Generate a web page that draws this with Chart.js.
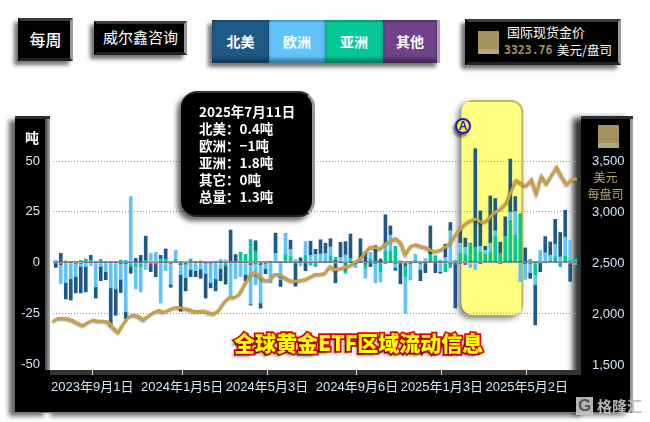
<!DOCTYPE html>
<html>
<head>
<meta charset="utf-8">
<script src="https://cdn.jsdelivr.net/npm/chart.js@4/dist/chart.umd.min.js"></script>
<style>
html, body { margin: 0; padding: 0; background: #fff; }
body { width: 650px; height: 422px; position: relative; overflow: hidden; font-family: "Noto Sans CJK SC", sans-serif; }
div, span { position: absolute; box-sizing: border-box; }
canvas { position: absolute; left: 0; top: 0; z-index: 5; }
.btn { background: #000; color: #fff; border-style: solid; border-width: 3px; border-color: #3a3a3a #999 #222 #000; box-shadow: -4px 4px 4px rgba(0,0,0,.55); text-align: center; white-space: nowrap; }
.seg { top: 20px; height: 43px; color: #fff; font-weight: 700; font-size: 14px; line-height: 43px; text-align: center; box-shadow: inset 0 -5px 4px -1px rgba(0,0,0,.4), inset 0 2px 1px rgba(0,0,0,.2); }
.swatch { background: linear-gradient(#a5915f 0 78%, #b6a67b 78%); }
.frame { background: #000; z-index: 2; box-shadow: -6px 4px 5px rgba(0,0,0,.6); }
</style>
</head>
<body>
<div class="btn" style="left:18px;top:18px;width:55px;height:43px;font-size:16px;font-weight:500;line-height:37px">每周</div>
<div class="btn" style="left:94px;top:21px;width:93px;height:34px;font-size:15px;line-height:26px">威尔鑫咨询</div>

<div style="left:212px;top:20px;width:228px;height:43px;box-shadow:-4px 4px 4px rgba(0,0,0,.55)"></div>
<div class="seg" style="left:212px;width:57px;background:#1f5a85">北美</div>
<div class="seg" style="left:269px;width:56px;background:#62c3fb">欧洲</div>
<div class="seg" style="left:325px;width:58px;background:#06c897">亚洲</div>
<div class="seg" style="left:383px;width:57px;background:#6f4289;border-right:3px solid #b49cc4">其他</div>

<div class="btn" style="left:465px;top:19px;width:156px;height:46px"></div>
<div class="swatch" style="left:478px;top:31px;width:21px;height:23px"></div>
<div style="left:507px;top:23px;color:#fff;font-size:13px;line-height:18px;white-space:nowrap">国际现货金价</div>
<div style="left:504px;top:41px;color:#a39162;font-size:11.5px;font-weight:700;line-height:18px;font-family:'DejaVu Sans Mono',monospace;white-space:nowrap">3323.76</div>
<div style="left:557px;top:41px;color:#fff;font-size:12.5px;line-height:18px;white-space:nowrap">美元/盘司</div>

<div class="frame" style="left:50px;top:370px;width:531px;height:42px;border-top:5px solid #333;box-shadow:0 4px 5px rgba(0,0,0,.6)"></div>
<div class="frame" style="left:15px;top:116px;width:35px;height:296px;background:linear-gradient(to right,#000 0 30px,#444 30px,#a8a8a8 35px);border-top:3px solid #2c2c2c"></div>
<div class="frame" style="left:581px;top:116px;width:52px;height:296px;background:linear-gradient(to right,#000 0 49px,#888 49px,#aaa 52px);border-top:3px solid #2c2c2c;box-shadow:-8px 2px 6px rgba(0,0,0,.8)"></div>
<div style="left:50px;top:370px;width:531px;height:5px;background:#333;z-index:3"></div>
<div style="left:45px;top:370px;width:5px;height:42px;background:#000;z-index:3"></div>
<div style="left:15px;top:412px;width:618px;height:1px;background:#777;z-index:3"></div>

<div style="left:25px;top:128px;z-index:6;color:#fff;font-size:14px;font-weight:700;line-height:18px">吨</div>
<div class="swatch" style="left:598px;top:125px;width:21px;height:23px;z-index:6"></div>
<div style="left:581px;top:169px;width:49px;z-index:6;color:#b8a56f;font-size:12px;line-height:16.5px;text-align:center">美元<br>每盘司</div>

<canvas id="goldFlowChart" width="650" height="422"></canvas>

<div style="left:462px;top:118px;width:16px;height:16px;margin-left:-7px;border-radius:50%;background:#ffef1a;border:2px solid #1a1ae0;box-shadow:-2px 3px 3px rgba(0,0,0,.55);z-index:6;color:#1a1ae0;font:700 12px/12px 'Liberation Sans',sans-serif;text-align:center">A</div>

<div style="left:181px;top:91px;width:134px;height:126px;border-radius:16px;background:#000;border-style:solid;border-width:2px 3px 2px 0;border-color:#333 #999 #222 #000;box-shadow:-4px 4px 5px rgba(0,0,0,.6);z-index:6"></div>
<div style="left:199px;top:103px;z-index:7;color:#fff;font-size:13.5px;font-weight:700;line-height:17.1px;white-space:pre">2025年7月11日
北美：0.4吨
欧洲：−1吨
亚洲：1.8吨
其它：0吨
总量：1.3吨</div>

<div style="left:234px;top:326px;z-index:6;font-size:21px;font-weight:900;line-height:32px;color:#ffff00;-webkit-text-stroke:3.5px #f00000;paint-order:stroke fill;text-shadow:-3px 3px 3px rgba(0,0,0,.45);white-space:nowrap">全球黄金ETF区域流动信息</div>

<div style="left:576px;top:397px;width:17px;height:18px;z-index:6;background:rgba(200,200,200,.9);color:#555;font:700 17px/18px 'Liberation Sans',sans-serif;text-align:center">G</div>
<div style="left:597px;top:395px;z-index:6;color:rgba(190,190,190,.95);font-size:15px;font-weight:700;line-height:22px;white-space:nowrap">格隆汇</div>

<script>
// weekly net flow in tonnes, 2023-07-14 .. 2025-07-11
const northAmerica = [-2.4,4.5,-8,-10.5,-8,-13,-12.5,2.2,-5.5,-7,-4,-19,-13,-6.5,-3.3,-3.3,2,3.5,12,-2.5,-5,1.5,5,-1.5,0,-18,-6.5,-3.5,-3,-4.5,-12,-2.5,-6,-6,-9,15.5,3.6,0,-3,-0.5,5,-2.5,-2.5,0,10,-3.3,0,4.5,-11.7,2,-4,7,2.5,7,5,4,-10,7.4,6.5,12,0,10,5,-2,8,1.7,14,4.5,-1.3,-10,0,0,0,-5.5,-5,14,-5,-0.8,6.5,4,-21.7,7,4.5,0,48.6,17.4,2,23.3,15.9,5.4,9.7,26,7.4,0,6.9,-2.8,-19.7,-4,8,6.5,12.3,12,13.2,-8.3,0.4];
const europe = [1.2,-9.5,-10,-8,-6.5,-1.5,-2,-1.5,-12,-2,-4.5,-12.5,-13,-8,-24,32.5,-11,-12.5,-3.5,4.5,5,-20,-4,-10.2,4.2,-5,-6.5,-3.5,-4,-3.3,-5,-9.5,-8,-3,1.3,-17.5,-8,-7,-6,-19.5,-10.5,-19,-2.5,-10,4,-8.5,10.5,3.5,1,-1.7,7,3.5,4,3.7,3.7,4.5,0,2,3.8,0,-2,1.2,-5,3.3,-9.5,-5,4,8,-2,0,-18,-8,3,-3,1.7,0,0,-4.5,2,15.7,0,5,3.5,-2.5,-3.5,2.8,1.9,4.6,2.8,0,0,4.3,11.6,-9.5,-8,-4.5,-5,5.7,4.5,2.8,6.2,2.8,9.5,10,-1];
const asia = [0,0,0.8,0,0.5,1,1.7,1.3,0,1.5,0,0.3,0.3,1.2,1,-2,-2,-2,1,0,0,2,1.7,0,1.5,0.3,-0.5,1.7,0.5,0.8,-0.5,-0.5,0.3,1.3,-1.7,0.5,0.3,5,4,11.3,5.7,0.3,0.3,0.3,0.5,0.3,3.7,3,0.5,0.3,3.3,-1.3,-2,0.5,0.8,3.2,1.5,0.5,-4.5,2,0.3,0.5,-2,1.7,0.3,-4.5,5.5,5.5,8,0.8,-5.3,0.3,1,0.3,0.3,3.5,3.3,1,-4.5,-2,1,4.5,4,9,7,5.2,3.6,4.4,12.3,4.6,12.3,20.3,13,23.6,0.3,1.5,-6,0.3,0.3,0.3,2.3,-2,2.5,1,1.8];
const others = [0,-1,0,0,-0.5,-0.5,0,0,0,0,0,0,0,-0.3,-0.3,0,0,0,0,-2,-2,0,0,-0.5,0,-1,-0.5,0,0,0,0,0,0,0,0,0,0,0,0,-1,-0.5,-1,-0.5,0,0,0,0,0,0,0,0,0,0,0,0,0,1,0,-0.7,0,-0.5,0,-0.7,0,-0.5,0,-0.5,0,-0.5,-0.5,-1.5,-0.5,0,-0.5,0,0.5,0,0,0.5,-0.5,-0.7,-0.5,-1,0.5,0.5,-0.3,0.5,0.5,0.5,-0.5,0.5,0.3,0.5,0.3,-0.3,-0.5,0,-0.5,0,0.5,0.5,0,0.5,-1,0];
// spot gold, USD per ounce
const goldPrice = [1927,1956,1956,1953,1936,1907,1887,1917,1941,1930,1930,1922,1863,1819,1902,1971,1990,1976,1941,1981,2015,2035,2015,2039,2059,2064,2054,2044,2025,2025,2030,2010,2000,2039,2113,2162,2162,2191,2280,2368,2407,2373,2328,2328,2387,2387,2358,2328,2319,2328,2336,2358,2387,2387,2397,2466,2433,2446,2456,2475,2510,2541,2603,2655,2647,2639,2686,2716,2740,2701,2583,2662,2681,2662,2652,2622,2613,2627,2662,2701,2779,2838,2887,2917,2931,2897,2907,2966,3005,3034,3083,3211,3309,3279,3255,3318,3181,3348,3276,3358,3436,3348,3269,3318,3324];

const tickWeeks = [7, 25, 42, 60, 77, 94];
const tickLabels = ['2023年9月1日', '2024年1月5日', '2024年5月3日', '2024年9月6日', '2025年1月3日', '2025年5月2日'];
const tonTicks = [50, 25, 0, -25, -50];
const usdTicks = [3500, 3000, 2500, 2000, 1500];

const weeks = northAmerica.map((_, i) => i);
const toPoints = values => values.map((v, i) => ({ x: i, y: v }));

function barSet(label, values, color) {
    return { type: 'bar', label, data: toPoints(values), xAxisID: 'x', yAxisID: 'y', stack: 'flow', backgroundColor: color, barThickness: 3, order: 2, clip: false };
}

// yellow band behind the marks, week 80.9..93.3
const highlightBand = {
    id: 'highlightBand',
    beforeDraw(chart) {
        const { ctx, scales } = chart;
        const left = scales.x.getPixelForValue(80.9);
        const right = scales.x.getPixelForValue(93.3);
        const top = scales.y.getPixelForValue(80);
        const bottom = scales.y.getPixelForValue(-26);
        ctx.save();
        ctx.beginPath();
        ctx.roundRect(left, top, right - left, bottom - top, 12);
        ctx.shadowColor = 'rgba(0,0,0,.55)';
        ctx.shadowBlur = 6;
        ctx.shadowOffsetX = -3;
        ctx.shadowOffsetY = 3;
        ctx.fillStyle = '#ffff80';
        ctx.fill();
        ctx.restore();
        ctx.save();
        ctx.beginPath();
        ctx.roundRect(left, top, right - left, bottom - top, 12);
        ctx.clip();
        ctx.beginPath();
        ctx.roundRect(left - 8, top, right - left + 8, bottom - top + 10, 12);
        ctx.strokeStyle = 'rgba(110,110,60,.45)';
        ctx.lineWidth = 4;
        ctx.stroke();
        ctx.restore();
    }
};

// soft shadow under the gold line
const lineShadow = {
    id: 'lineShadow',
    beforeDatasetDraw(chart, args) {
        if (args.meta.type !== 'line') return;
        const ctx = chart.ctx;
        ctx.save();
        ctx.shadowColor = 'rgba(0,0,0,.4)';
        ctx.shadowBlur = 2;
        ctx.shadowOffsetX = -1;
        ctx.shadowOffsetY = 1;
    },
    afterDatasetDraw(chart, args) {
        if (args.meta.type === 'line') chart.ctx.restore();
    }
};

const tickFont = { family: '"Liberation Sans", "Noto Sans CJK SC", sans-serif', size: 13 };
const tickColor = '#d4e6fa';

new Chart(document.getElementById('goldFlowChart'), {
    data: {
        datasets: [
            barSet('其他', others, '#6f4289'),
            barSet('亚洲', asia, '#06c897'),
            barSet('欧洲', europe, '#62c3fb'),
            barSet('北美', northAmerica, '#1f5a85'),
            { type: 'line', label: '国际现货金价', data: goldPrice, xAxisID: 'x2', yAxisID: 'y1', borderColor: '#c9a043', borderWidth: 3, pointRadius: 0, tension: 0, order: 1, clip: false }
        ]
    },
    options: {
        responsive: false,
        animation: false,
        devicePixelRatio: 1,
        layout: { padding: { top: 116, left: 0, right: 0, bottom: 0 } },
        plugins: { legend: { display: false }, tooltip: { enabled: false } },
        scales: {
            x: {
                type: 'linear',
                offset: false,
                min: -0.86,
                max: 104.06,
                afterBuildTicks: s => { s.ticks = tickWeeks.map(v => ({ value: v })); },
                afterFit: s => { s.height = 52; },
                grid: { drawOnChartArea: false, drawTicks: true, tickLength: 5, tickColor: '#ddd', tickWidth: 1, offset: false },
                border: { display: false },
                ticks: { color: tickColor, font: tickFont, padding: 5, maxRotation: 0, autoSkip: false, callback: v => tickLabels[tickWeeks.indexOf(v)] }
            },
            x2: { type: 'category', labels: weeks.map(String), offset: false, display: false },
            y: {
                position: 'left',
                stacked: true,
                min: -52.96,
                max: 72.17,
                afterBuildTicks: s => { s.ticks = tonTicks.map(v => ({ value: v })); },
                afterFit: s => { s.width = 53; },
                border: { display: false, dash: c => c.tick && c.tick.value === 0 ? [] : [1, 2] },
                grid: {
                    drawTicks: false,
                    color: c => c.tick.value === 0 ? '#999' : (c.tick.value === -50 ? 'rgba(0,0,0,0)' : '#999'),
                    lineWidth: c => c.tick.value === 0 ? 2 : 1
                },
                ticks: { color: tickColor, font: tickFont, padding: 13, callback: v => String(v) }
            },
            y1: {
                position: 'right',
                min: 1451,
                max: 3941,
                afterBuildTicks: s => { s.ticks = usdTicks.map(v => ({ value: v })); },
                afterFit: s => { s.width = 73; },
                border: { display: false },
                grid: { display: false, drawTicks: false },
                ticks: { color: tickColor, font: tickFont, padding: 15, callback: v => v.toLocaleString('en-US') }
            }
        }
    },
    plugins: [highlightBand, lineShadow]
});
</script>
</body>
</html>
